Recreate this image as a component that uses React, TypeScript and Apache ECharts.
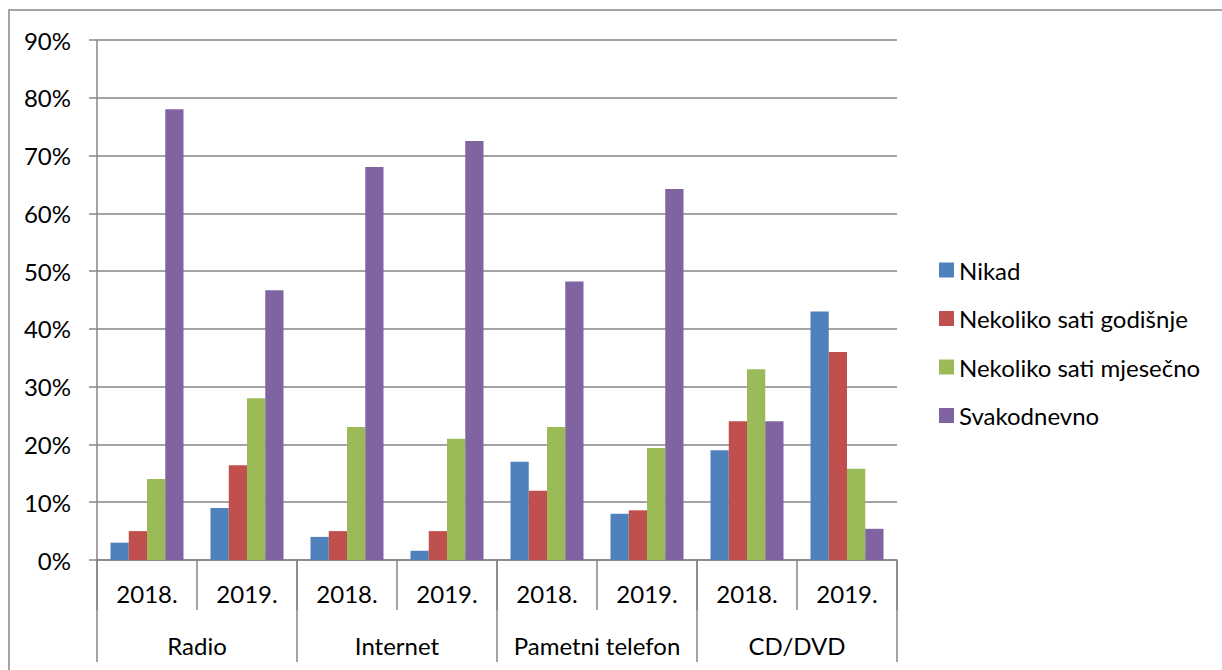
import React, { useEffect, useRef } from "react";
import * as echarts from "echarts";

const years = ["2018.", "2019.", "2018.", "2019.", "2018.", "2019.", "2018.", "2019."];
const groups = ["Radio", "Internet", "Pametni telefon", "CD/DVD"];
const seriesNames = ["Nikad", "Nekoliko sati godišnje", "Nekoliko sati mjesečno", "Svakodnevno"];
const nikad = [3, 9, 4, 1.6, 17, 8, 19, 43];
const godisnje = [5, 16.4, 5, 5, 12, 8.6, 24, 36];
const mjesecno = [14, 28, 23, 21, 23, 19.4, 33, 15.8];
const svakodnevno = [78, 46.7, 68, 72.5, 48.2, 64.2, 24, 5.4];
const colors = ["#4F81BD", "#C0504D", "#9BBB59", "#8064A2"];

const FONT = "Lato, 'Open Sans', sans-serif";
const FS = 24;
const GRAY = "#868686";

export default function App() {
  const ref = useRef<HTMLDivElement>(null);
  useEffect(() => {
    if (!ref.current) return;
    const chart = echarts.init(ref.current, null, { renderer: "svg" });
    const values = [nikad, godisnje, mjesecno, svakodnevno];
    chart.setOption({
      animation: false,
      backgroundColor: "#ffffff",
      textStyle: { fontFamily: FONT },
      graphic: [
        {
          type: "rect",
          shape: { x: 9, y: 10, width: 1400, height: 900 },
          style: { fill: "none", stroke: GRAY, lineWidth: 1.5 },
          silent: true,
        },
      ],
      grid: { left: 97, right: 325, top: 40, bottom: 110, containLabel: false },
      legend: {
        orient: "vertical",
        left: 939,
        top: 258,
        padding: 0,
        itemWidth: 15,
        itemHeight: 15,
        itemGap: 24.5,
        icon: "rect",
        data: seriesNames,
        textStyle: { fontSize: FS, color: "#000", fontFamily: FONT },
      },
      xAxis: [
        {
          type: "category",
          data: years,
          position: "bottom",
          axisLine: { show: true, lineStyle: { color: GRAY, width: 1.5 } },
          axisTick: { show: true, length: 50, interval: 0, lineStyle: { color: GRAY, width: 1.5 } },
          axisLabel: { interval: 0, margin: 21, fontSize: FS, color: "#000", fontFamily: FONT },
          splitLine: { show: false },
        },
        {
          type: "category",
          data: groups,
          position: "bottom",
          gridIndex: 0,
          axisLine: { show: false },
          axisTick: { show: true, length: 102, interval: 0, lineStyle: { color: GRAY, width: 1.5 } },
          axisLabel: { interval: 0, margin: 73, fontSize: FS, color: "#000", fontFamily: FONT },
          splitLine: { show: false },
        },
      ],
      yAxis: {
        type: "value",
        min: 0,
        max: 90,
        interval: 10,
        axisLine: { show: true, lineStyle: { color: GRAY, width: 1.5 } },
        axisTick: { show: true, length: 8, lineStyle: { color: GRAY, width: 1.5 } },
        axisLabel: { formatter: "{value}%", margin: 26, fontSize: FS, color: "#000", fontFamily: FONT },
        splitLine: { show: true, lineStyle: { color: GRAY, width: 1.5 } },
      },
      series: seriesNames.map((name, i) => ({
        name,
        type: "bar",
        xAxisIndex: 0,
        data: values[i],
        barGap: "0%",
        barCategoryGap: "27%",
        itemStyle: { color: colors[i] },
      })),
    });
    return () => chart.dispose();
  }, []);
  return (
    <div
      ref={ref}
      style={{ position: "fixed", left: 0, top: 0, width: 1222, height: 670 }}
    />
  );
}
